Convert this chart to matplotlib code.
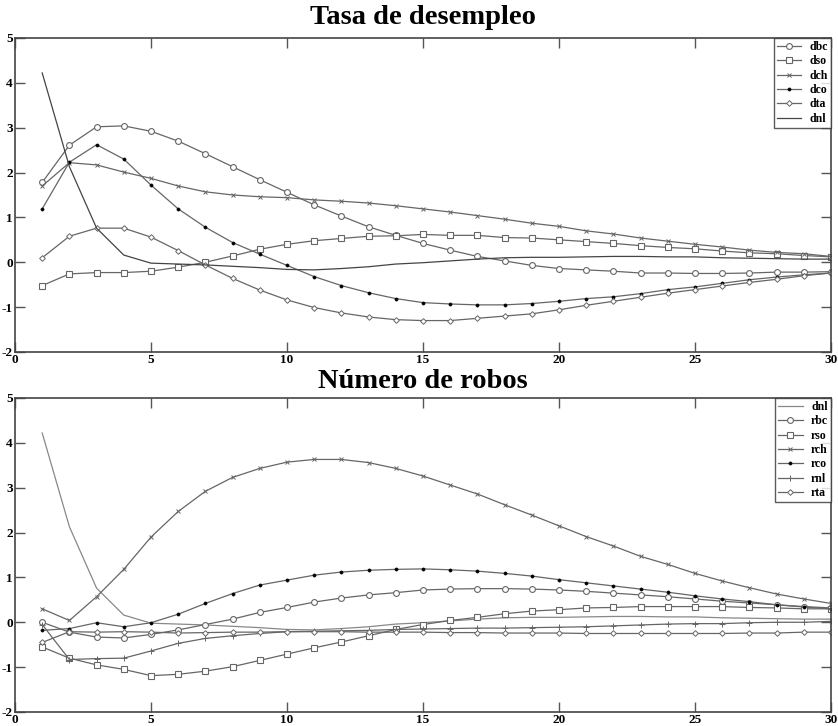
import matplotlib
matplotlib.use('Agg')
import numpy as np
import matplotlib.pyplot as plt

plt.rcParams['font.family'] = ['Liberation Serif', 'DejaVu Serif']
plt.rcParams['font.weight'] = 'bold'
plt.rcParams['axes.unicode_minus'] = False

# horizonte de la respuesta
periodos = list(range(1, 31))

# respuestas de la tasa de desempleo
dbc = [1.78, 2.61, 3.02, 3.04, 2.92, 2.70, 2.42, 2.13, 1.84, 1.56,
       1.28, 1.03, 0.79, 0.60, 0.42, 0.27, 0.13, 0.03, -0.07, -0.14,
       -0.17, -0.20, -0.24, -0.24, -0.25, -0.25, -0.24, -0.22, -0.22, -0.21]
dso = [-0.52, -0.26, -0.23, -0.23, -0.20, -0.11, 0.00, 0.14, 0.29, 0.40,
       0.48, 0.53, 0.58, 0.59, 0.62, 0.60, 0.60, 0.55, 0.54, 0.50,
       0.46, 0.42, 0.37, 0.33, 0.30, 0.25, 0.21, 0.19, 0.15, 0.12]
dch = [1.70, 2.22, 2.17, 2.01, 1.87, 1.70, 1.57, 1.50, 1.46, 1.44,
       1.39, 1.36, 1.32, 1.26, 1.19, 1.12, 1.04, 0.96, 0.87, 0.80,
       0.70, 0.63, 0.54, 0.47, 0.40, 0.34, 0.27, 0.22, 0.19, 0.13]
dco = [1.19, 2.23, 2.62, 2.30, 1.72, 1.19, 0.78, 0.44, 0.18, -0.07,
       -0.32, -0.52, -0.68, -0.81, -0.90, -0.93, -0.95, -0.95, -0.92, -0.87,
       -0.81, -0.77, -0.70, -0.61, -0.55, -0.47, -0.39, -0.33, -0.28, -0.24]
dta = [0.10, 0.58, 0.76, 0.76, 0.56, 0.26, -0.06, -0.36, -0.62, -0.84,
       -1.01, -1.13, -1.22, -1.28, -1.30, -1.30, -1.25, -1.20, -1.15, -1.06,
       -0.96, -0.87, -0.78, -0.69, -0.61, -0.53, -0.45, -0.38, -0.30, -0.24]
dnl = [4.22, 2.13, 0.76, 0.16, -0.02, -0.04, -0.06, -0.09, -0.12, -0.16,
       -0.17, -0.14, -0.10, -0.04, -0.01, 0.03, 0.07, 0.10, 0.11, 0.11,
       0.12, 0.13, 0.13, 0.12, 0.12, 0.10, 0.09, 0.08, 0.07, 0.07]

# respuestas del numero de robos
rbc = [0.00, -0.22, -0.33, -0.35, -0.27, -0.17, -0.05, 0.07, 0.22, 0.33,
       0.45, 0.54, 0.61, 0.66, 0.72, 0.74, 0.75, 0.75, 0.74, 0.72,
       0.69, 0.65, 0.61, 0.57, 0.52, 0.47, 0.43, 0.39, 0.35, 0.32]
rso = [-0.55, -0.80, -0.95, -1.05, -1.19, -1.16, -1.09, -0.99, -0.85, -0.71,
       -0.57, -0.44, -0.30, -0.16, -0.05, 0.04, 0.11, 0.19, 0.25, 0.28,
       0.32, 0.33, 0.35, 0.35, 0.35, 0.35, 0.33, 0.32, 0.30, 0.30]
rch = [0.30, 0.04, 0.57, 1.18, 1.90, 2.47, 2.92, 3.23, 3.43, 3.57,
       3.63, 3.63, 3.56, 3.43, 3.26, 3.06, 2.86, 2.62, 2.39, 2.15,
       1.91, 1.70, 1.47, 1.29, 1.09, 0.92, 0.77, 0.63, 0.52, 0.42]
rco = [-0.18, -0.14, -0.01, -0.10, -0.01, 0.18, 0.42, 0.64, 0.83, 0.94,
       1.05, 1.12, 1.16, 1.18, 1.19, 1.17, 1.14, 1.09, 1.03, 0.95,
       0.88, 0.81, 0.74, 0.67, 0.59, 0.52, 0.46, 0.39, 0.34, 0.30]
rnl = [-0.05, -0.83, -0.81, -0.80, -0.64, -0.47, -0.36, -0.30, -0.25, -0.21,
       -0.20, -0.19, -0.18, -0.16, -0.15, -0.14, -0.13, -0.13, -0.12, -0.11,
       -0.10, -0.08, -0.06, -0.04, -0.03, -0.03, -0.01, 0.00, 0.00, 0.02]
rta = [-0.45, -0.21, -0.22, -0.21, -0.22, -0.24, -0.23, -0.22, -0.22, -0.21,
       -0.21, -0.21, -0.22, -0.22, -0.22, -0.23, -0.23, -0.24, -0.24, -0.24,
       -0.25, -0.25, -0.25, -0.25, -0.25, -0.25, -0.24, -0.24, -0.22, -0.22]

gris = '#666666'

estilo = {
    'bc': dict(marker='o', ms=4.2, mfc='white', mec=gris, mew=0.8),
    'so': dict(marker='s', ms=3.8, mfc='white', mec=gris, mew=0.8),
    'ch': dict(marker='x', ms=2.2, mec=gris, mew=0.7),
    'co': dict(marker='o', ms=2.3, mfc='black', mec='black', mew=0.4),
    'ta': dict(marker='D', ms=2.9, mfc='white', mec=gris, mew=0.7),
    'nl': dict(marker='+', ms=4, mec=gris, mew=0.7),
}

fig = plt.figure(figsize=(8.38, 7.26), dpi=100)
ax1 = fig.add_axes([0.0179, 0.5152, 0.9737, 0.4325])
ax2 = fig.add_axes([0.0179, 0.0193, 0.9737, 0.4325])

ax1.plot(periodos, dbc, color=gris, lw=0.9, label='dbc', **estilo['bc'])
ax1.plot(periodos, dso, color=gris, lw=0.9, label='dso', **estilo['so'])
ax1.plot(periodos, dch, color=gris, lw=0.9, label='dch', **estilo['ch'])
ax1.plot(periodos, dco, color=gris, lw=0.9, label='dco', **estilo['co'])
ax1.plot(periodos, dta, color=gris, lw=0.9, label='dta', **estilo['ta'])
ax1.plot(periodos, dnl, color='#444444', lw=0.9, label='dnl')

ax2.plot(periodos, dnl, color='#888888', lw=0.9, label='dnl')
ax2.plot(periodos, rbc, color=gris, lw=0.9, label='rbc', **estilo['bc'])
ax2.plot(periodos, rso, color=gris, lw=0.9, label='rso', **estilo['so'])
ax2.plot(periodos, rch, color=gris, lw=0.9, label='rch', **estilo['ch'])
ax2.plot(periodos, rco, color=gris, lw=0.9, label='rco', **estilo['co'])
ax2.plot(periodos, rnl, color=gris, lw=0.9, label='rnl', **estilo['nl'])
ax2.plot(periodos, rta, color=gris, lw=0.9, label='rta', **estilo['ta'])

for ax, titulo, sep in [(ax1, 'Tasa de desempleo', 10), (ax2, 'Número de robos', 7)]:
    ax.set_xlim(0, 30)
    ax.set_ylim(-2, 5)
    ax.set_xticks(range(0, 31, 5))
    ax.set_yticks(range(-2, 6))
    ax.tick_params(direction='in', length=7, width=1, color='#555555',
                   top=True, right=True, labelsize=9.5, pad=1.5)
    for lab in ax.get_xticklabels() + ax.get_yticklabels():
        lab.set_fontweight('bold')
    for s in ax.spines.values():
        s.set_color('#444444')
        s.set_linewidth(1.2)
    ax.set_title(titulo, fontsize=20.5, fontweight='bold', pad=sep)
    leg = ax.legend(loc='upper right', fontsize=8.5, frameon=True, fancybox=False,
                    borderaxespad=0, handlelength=2.1, labelspacing=0.2,
                    borderpad=0.25, handletextpad=0.7)
    leg.get_frame().set_edgecolor('#333333')
    leg.get_frame().set_linewidth(1)
    for t in leg.get_texts():
        t.set_fontweight('bold')

fig.savefig('out.png', dpi=100)
